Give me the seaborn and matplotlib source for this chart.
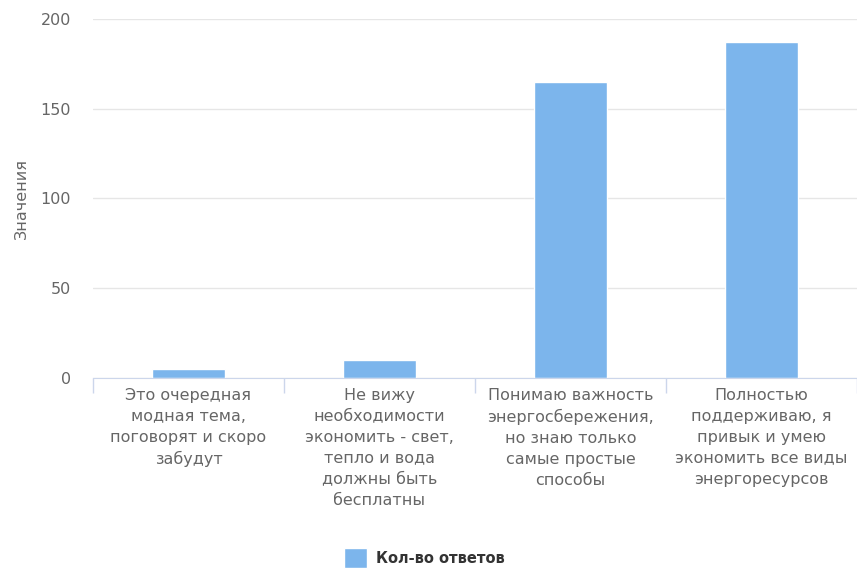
import pandas as pd
import matplotlib.pyplot as plt
import seaborn as sns

categories = [
    "Это очередная\nмодная тема,\nпоговорят и скоро\nзабудут",
    "Не вижу\nнеобходимости\nэкономить - свет,\nтепло и вода\nдолжны быть\nбесплатны",
    "Понимаю важность\nэнергосбережения,\nно знаю только\nсамые простые\nспособы",
    "Полностью\nподдерживаю, я\nпривык и умею\nэкономить все виды\nэнергоресурсов",
]
values = [5, 10, 165, 187]
series_name = "Кол-во ответов"
y_ticks = [0, 50, 100, 150, 200]

BAR_COLOR = "#7cb5ec"
TEXT_COLOR = "#666666"

df = pd.DataFrame({"cat": categories, "val": values, "series": series_name})

sns.set_style("white")
plt.rcParams["font.family"] = ["DejaVu Sans"]

fig = plt.figure(figsize=(8.57, 5.69), dpi=100)
ax = fig.add_axes([0.1085, 0.3357, 0.8915, 0.631])

sns.barplot(data=df, x="cat", y="val", hue="series", palette=[BAR_COLOR],
            width=0.38, saturation=1, ax=ax)

ax.set_ylim(0, 200)
ax.set_xlim(-0.5, len(categories) - 0.5)
ax.set_yticks(y_ticks)
ax.set_yticklabels([str(t) for t in y_ticks], color=TEXT_COLOR, fontsize=11.5)
ax.yaxis.grid(True, color="#e6e6e6", linewidth=1)
ax.set_axisbelow(True)
ax.tick_params(axis="y", length=0, pad=16)

ax.set_xticks(range(len(categories)))
ax.set_xticklabels(categories, color=TEXT_COLOR, fontsize=11.5, linespacing=1.5)
ax.tick_params(axis="x", which="major", length=0, pad=7)
ax.set_xticks([i - 0.5 for i in range(len(categories) + 1)], minor=True)
ax.tick_params(axis="x", which="minor", bottom=True, length=11,
               color="#ccd6eb", width=1)

for side in ["top", "right", "left"]:
    ax.spines[side].set_visible(False)
ax.spines["bottom"].set_color("#ccd6eb")

ax.set_xlabel("")
ax.set_ylabel("Значения", color=TEXT_COLOR, fontsize=11.5, labelpad=8)

ax.legend(loc="lower center", bbox_to_anchor=(0.434, -0.565), frameon=False,
          handlelength=1.6, handleheight=1.7, handletextpad=0.6,
          prop={"weight": "bold", "size": 10.5})
for t in ax.get_legend().get_texts():
    t.set_color("#333333")

fig.savefig("out.png", dpi=100)
plt.close(fig)
